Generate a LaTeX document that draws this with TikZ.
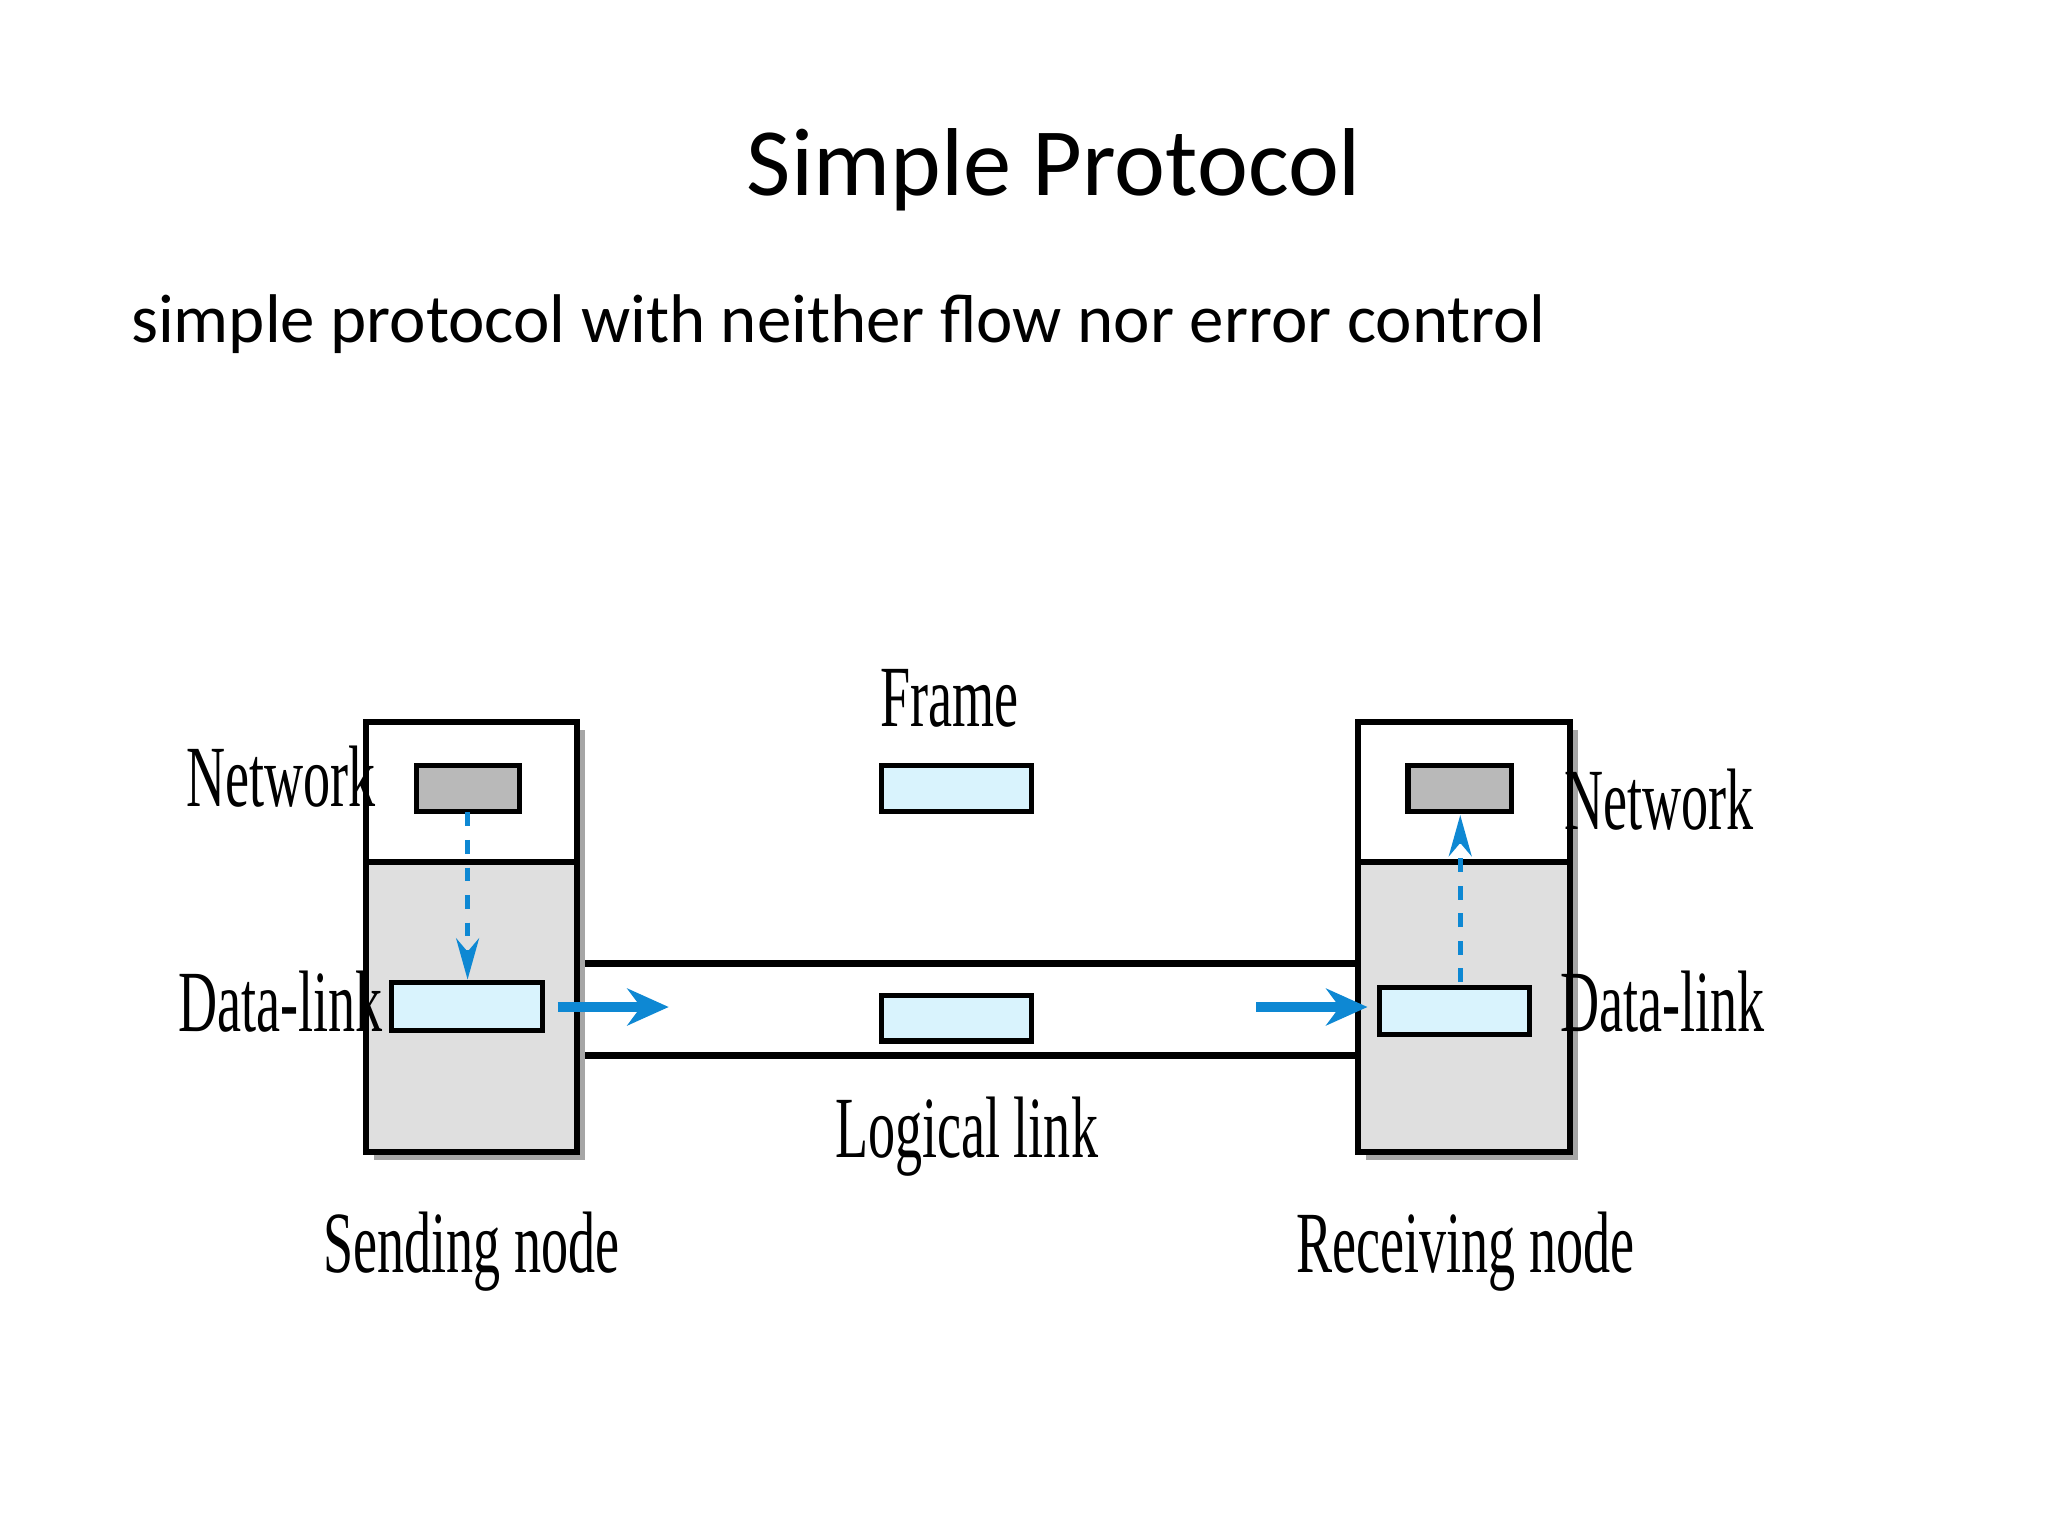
\documentclass[tikz,border=0pt]{standalone}
\usepackage{fontspec}
\setmainfont{Carlito}
\newfontfamily\lbl{Liberation Serif}
\usetikzlibrary{arrows.meta}
\begin{document}
\begin{tikzpicture}[x=0.01cm,y=-0.01cm,
  lab/.style={font=\lbl\fontsize{19}{19}\selectfont},
  nodebox/.style={draw,line width=1.3pt},
  gbox/.style={draw,line width=1.1pt,fill=gray!55},
  bbox/.style={draw,line width=1.1pt,fill=cyan!15},
  link/.style={line width=1.5pt},
  barrow/.style={draw=cyan!70!blue,line width=2.2pt,-{Stealth[length=9pt,width=8pt]}},
  darrow/.style={draw=cyan!70!blue,line width=1pt,dashed,-{Stealth[length=9pt,width=5pt]}}]
\useasboundingbox (0,0) rectangle (1568,1176);
\node (title) at (807,130) {\fontsize{21}{21}\selectfont Simple Protocol};
\node[anchor=west] (sub) at (88,248) {\fontsize{15}{15}\selectfont simple protocol with neither flow nor error control};
% shadows
\fill[gray!70] (286,559) rectangle (448,888);
\fill[gray!70] (1046,559) rectangle (1208,888);
% sending
\draw[nodebox,fill=white] (280,553) rectangle (442,660);
\draw[nodebox,fill=gray!25] (280,660) rectangle (442,882);
\draw[gbox] (319,586) rectangle (398,621) node[midway] (sn) {};
\draw[bbox] (300,752) rectangle (415,789) node[midway] (sd) {};
% receiving
\draw[nodebox,fill=white] (1040,553) rectangle (1202,660);
\draw[nodebox,fill=gray!25] (1040,660) rectangle (1202,882);
\draw[gbox] (1078,586) rectangle (1157,621) node[midway] (rn) {};
\draw[bbox] (1056,756) rectangle (1171,792) node[midway] (rd) {};
% link
\draw[link] (448,738) -- (1040,738);
\draw[link] (448,808) -- (1040,808);
\draw[bbox] (675,586) rectangle (790,621) node[midway] (f1) {};
\draw[bbox] (675,762) rectangle (790,797) node[midway] (f2) {};
% arrows
\coordinate (a1) at (427,771); \coordinate (a2) at (512,771);
\coordinate (a3) at (962,771); \coordinate (a4) at (1047,771);
\draw[barrow] (a1) -- (a2);
\draw[barrow] (a3) -- (a4);
\coordinate (d1) at (358,622); \coordinate (d2) at (358,750);
\coordinate (d3) at (1118,752); \coordinate (d4) at (1118,624);
\draw[darrow] (d1) -- (d2);
\draw[darrow] (d3) -- (d4);
% labels
\node[lab] (l1) at (215,595) {\scalebox{0.62}[1]{Network}};
\node[lab] (l2) at (215,767) {\scalebox{0.62}[1]{Data-link}};
\node[lab] (l3) at (1270,612) {\scalebox{0.62}[1]{Network}};
\node[lab] (l4) at (1273,767) {\scalebox{0.62}[1]{Data-link}};
\node[lab] (l5) at (727,535) {\scalebox{0.62}[1]{Frame}};
\node[lab] (l6) at (740,870) {\scalebox{0.62}[1]{Logical link}};
\node[lab] (l7) at (361,958) {\scalebox{0.62}[1]{Sending node}};
\node[lab] (l8) at (1122,958) {\scalebox{0.62}[1]{Receiving node}};
\end{tikzpicture}
\end{document}
